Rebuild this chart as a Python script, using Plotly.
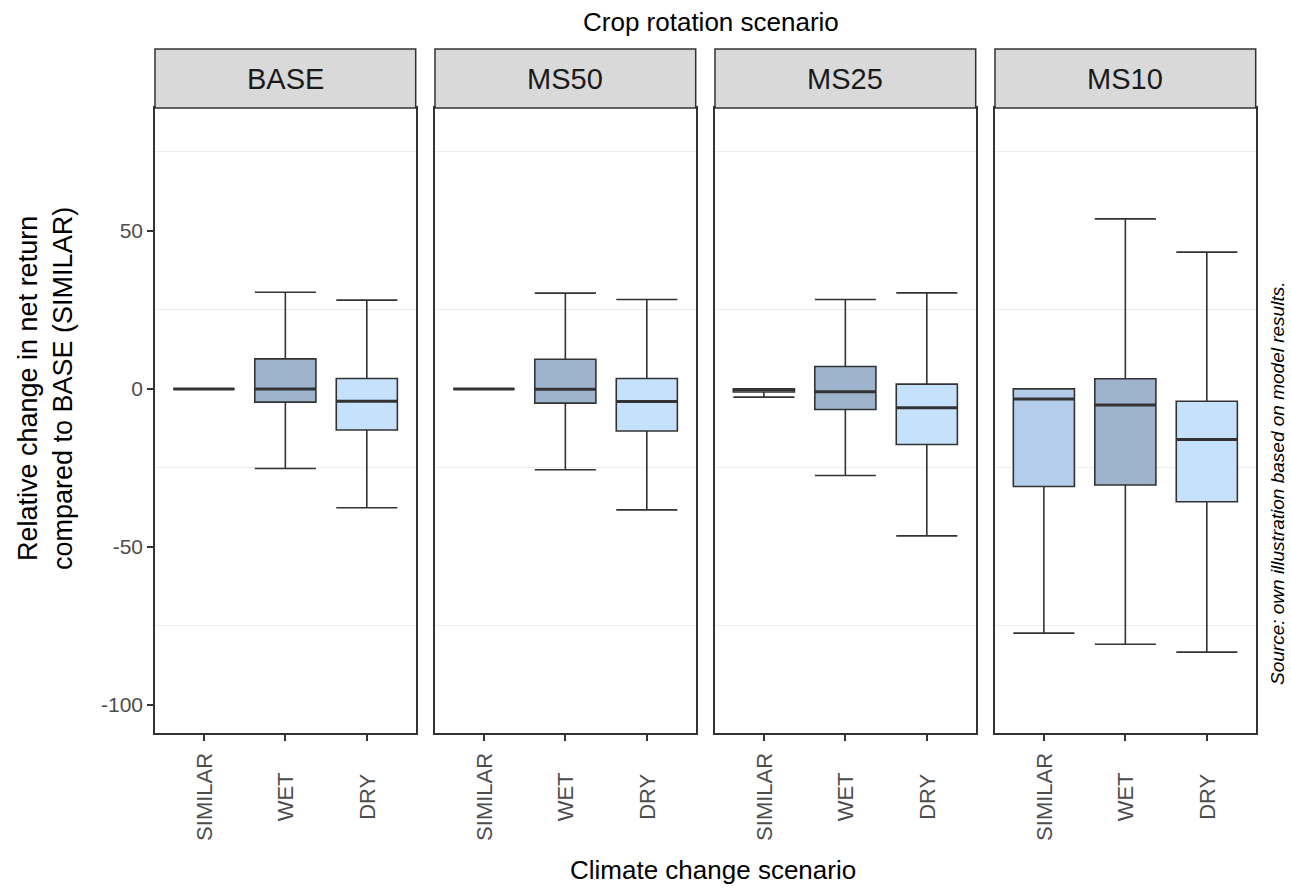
import plotly.graph_objects as go

# ---------------- data ----------------
rotations = ["BASE", "MS50", "MS25", "MS10"]
climates = ["SIMILAR", "WET", "DRY"]

lower_whisker = {
    "BASE": [0.0, -25.2, -37.6],
    "MS50": [0.0, -25.6, -38.3],
    "MS25": [-2.6, -27.4, -46.5],
    "MS10": [-77.3, -80.8, -83.3],
}
q1_vals = {
    "BASE": [0.0, -4.2, -13.0],
    "MS50": [0.0, -4.5, -13.3],
    "MS25": [-1.0, -6.5, -17.6],
    "MS10": [-30.9, -30.4, -35.7],
}
median_vals = {
    "BASE": [0.0, 0.0, -3.9],
    "MS50": [0.0, -0.1, -4.0],
    "MS25": [-0.2, -0.9, -6.0],
    "MS10": [-3.2, -5.1, -16.0],
}
q3_vals = {
    "BASE": [0.0, 9.5, 3.3],
    "MS50": [0.0, 9.4, 3.3],
    "MS25": [0.0, 7.1, 1.5],
    "MS10": [0.0, 3.2, -3.9],
}
upper_whisker = {
    "BASE": [0.0, 30.6, 28.1],
    "MS50": [0.0, 30.3, 28.3],
    "MS25": [0.0, 28.3, 30.4],
    "MS10": [0.0, 53.8, 43.3],
}
y_tick_values = [-100, -50, 0, 50]
y_tick_labels = ["-100", "-50", "0", "50"]

# ---------------- style ----------------
W, H = 1291, 889
FONT = "Liberation Sans, Arial, Helvetica, sans-serif"
fills = {"SIMILAR": "#b4cdeb", "WET": "#9eb3cc", "DRY": "#c6e1fb"}
LINE = "#333333"
TICKCOL = "#4d4d4d"
BOX_W = 0.75


def xp(px):
    return px / W


def yp(py):
    return 1 - py / H


panel_left = [155, 435, 715, 995]
panel_w = 260.7
panel_top, panel_bottom = 108, 733
strip_top = 49

fig = go.Figure()
layout_axes = {}
annotations = []
shapes = []

for i, rot in enumerate(rotations):
    n = "" if i == 0 else str(i + 1)
    xa, ya = "x" + n, "y" + n
    for j, cl in enumerate(climates):
        fig.add_trace(go.Box(
            x=[j],
            q1=[q1_vals[rot][j]],
            median=[median_vals[rot][j]],
            q3=[q3_vals[rot][j]],
            lowerfence=[lower_whisker[rot][j]],
            upperfence=[upper_whisker[rot][j]],
            fillcolor=fills[cl],
            line=dict(color=LINE, width=1.6),
            width=BOX_W,
            whiskerwidth=1,
            boxpoints=False,
            showlegend=False,
            xaxis=xa, yaxis=ya,
            name=cl,
        ))
        # thicker median line (ggplot style)
        fig.add_trace(go.Scatter(
            x=[j - BOX_W / 2, j + BOX_W / 2],
            y=[median_vals[rot][j]] * 2,
            mode="lines",
            line=dict(color=LINE, width=3),
            showlegend=False,
            hoverinfo="skip",
            xaxis=xa, yaxis=ya,
        ))
        # x tick label (centred, rotated)
        annotations.append(dict(
            x=j, xref=xa, y=yp(797), yref="paper",
            text=cl, textangle=-90, showarrow=False,
            xanchor="center", yanchor="middle",
            font=dict(family=FONT, size=22, color=TICKCOL),
        ))

    x0 = panel_left[i]
    layout_axes["xaxis" + n] = dict(
        domain=[xp(x0), xp(x0 + panel_w)],
        range=[-0.6, 2.6],
        tickvals=[0, 1, 2],
        showticklabels=False,
        ticks="outside", ticklen=6, tickwidth=1.5, tickcolor=LINE,
        showline=True, mirror=True, linecolor=LINE, linewidth=1.5,
        showgrid=False, zeroline=False,
        anchor=ya, fixedrange=True,
    )
    layout_axes["yaxis" + n] = dict(
        domain=[yp(panel_bottom), yp(panel_top)],
        range=[-108.9, 88.9],
        tickvals=y_tick_values,
        ticktext=y_tick_labels,
        showticklabels=(i == 0),
        ticks="outside" if i == 0 else "",
        ticklen=6, tickwidth=1.5, tickcolor=LINE,
        tickfont=dict(family=FONT, size=21, color=TICKCOL),
        showline=True, mirror=True, linecolor=LINE, linewidth=1.5,
        showgrid=False, zeroline=False,
        minor=dict(showgrid=True, tick0=25, dtick=50,
                   gridcolor="#ebebeb", gridwidth=1),
        anchor=xa, fixedrange=True,
    )
    # strip header
    shapes.append(dict(
        type="rect", xref="paper", yref="paper",
        x0=xp(x0), x1=xp(x0 + panel_w), y0=yp(panel_top), y1=yp(strip_top),
        fillcolor="#d9d9d9", line=dict(color=LINE, width=1.5), layer="above",
    ))
    annotations.append(dict(
        x=xp(x0 + panel_w / 2), y=yp(79), xref="paper", yref="paper",
        text=rot, showarrow=False, xanchor="center", yanchor="middle",
        font=dict(family=FONT, size=29, color="#1a1a1a"),
    ))

# titles
annotations.append(dict(
    x=xp(711), y=yp(22), xref="paper", yref="paper",
    text="Crop rotation scenario", showarrow=False,
    xanchor="center", yanchor="middle",
    font=dict(family=FONT, size=26, color="#000000"),
))
annotations.append(dict(
    x=xp(713), y=yp(870), xref="paper", yref="paper",
    text="Climate change scenario", showarrow=False,
    xanchor="center", yanchor="middle",
    font=dict(family=FONT, size=26, color="#000000"),
))
annotations.append(dict(
    x=xp(45), y=yp(389), xref="paper", yref="paper",
    text="Relative change in net return<br>compared to BASE (SIMILAR)",
    textangle=-90, showarrow=False,
    xanchor="center", yanchor="middle",
    font=dict(family=FONT, size=27, color="#000000"),
))
annotations.append(dict(
    x=xp(1277), y=yp(484), xref="paper", yref="paper",
    text="<i>Source: own illustration based on model results.</i>",
    textangle=-90, showarrow=False,
    xanchor="center", yanchor="middle",
    font=dict(family=FONT, size=19, color="#000000"),
))

fig.update_layout(
    width=W, height=H,
    margin=dict(l=0, r=0, t=0, b=0),
    paper_bgcolor="white", plot_bgcolor="white",
    boxmode="overlay",
    showlegend=False,
    annotations=annotations,
    shapes=shapes,
    **layout_axes,
)

fig.write_html(
    "out.html",
    config={"displayModeBar": False},
    post_script="document.body.style.margin='0';document.body.style.overflow='hidden';",
)
